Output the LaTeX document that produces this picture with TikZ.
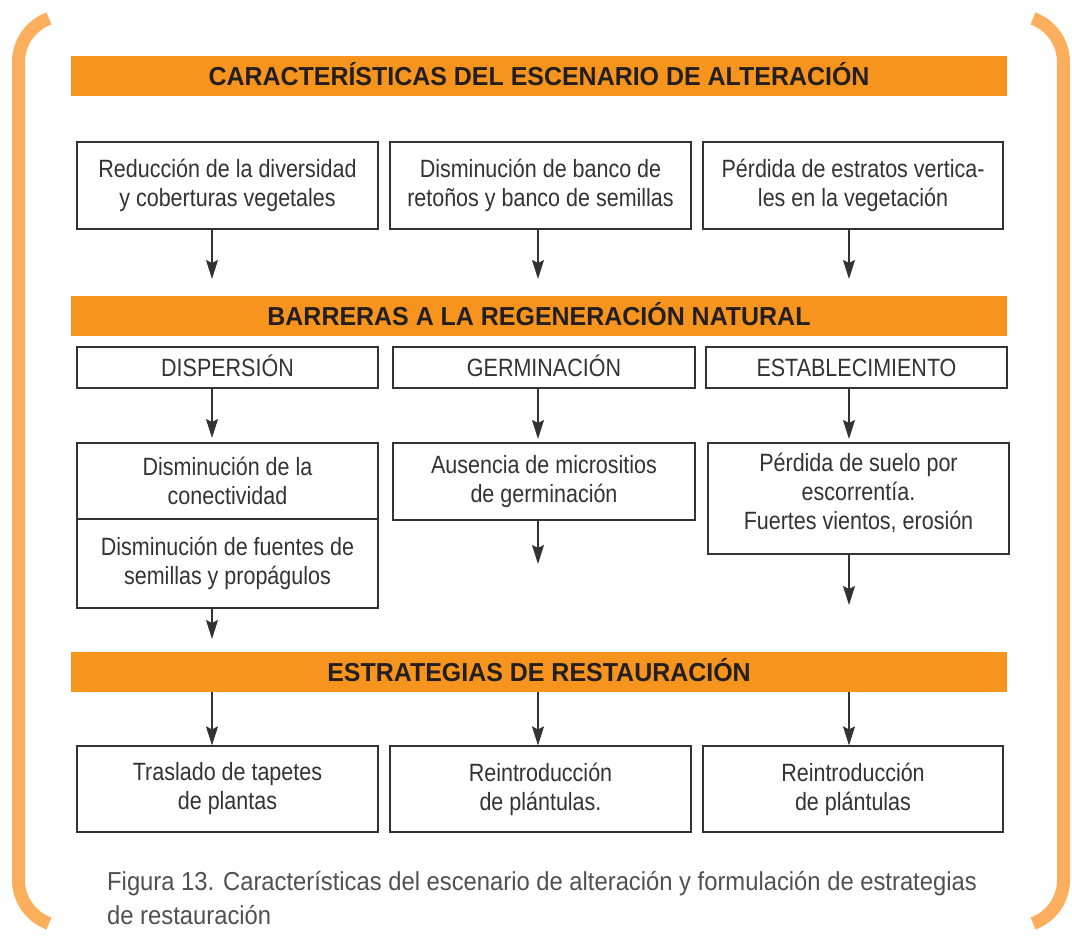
\documentclass[tikz,border=0pt]{standalone}
\usepackage{fontspec}
\setmainfont{Liberation Sans}[FakeStretch=0.86]
\newfontfamily\barfont{Liberation Sans}[FakeStretch=0.96]
\newfontfamily\capfont{Liberation Sans}[FakeStretch=0.915]
\usetikzlibrary{arrows.meta}
\definecolor{barorange}{HTML}{F7941D}
\definecolor{bracketorange}{HTML}{FBAE5C}
\definecolor{ink}{HTML}{333333}
\definecolor{titleink}{HTML}{231F20}
\definecolor{capink}{HTML}{505050}
\tikzset{
  box/.style={draw=ink, line width=1.2pt, text=ink, inner sep=0pt, align=center,
    font=\fontsize{25}{29}\selectfont},
  oneline/.style={text height=18pt, text depth=0pt},
  bar/.style={fill=barorange, draw=none, inner sep=0pt, minimum width=936pt,
    minimum height=40pt, text height=19pt, text depth=0pt, text=titleink,
    font=\barfont\bfseries\fontsize{26}{30}\selectfont},
  arr/.style={draw=ink, line width=1.2pt, -{Stealth[length=19pt,width=12pt,inset=3pt]}},
  bracket/.style={draw=bracketorange, line width=13pt}
}
\begin{document}
\begin{tikzpicture}[x=1pt,y=-1pt]
\useasboundingbox (0,0) rectangle (1072,936);
% orange brackets
\draw[bracket] (49,18.5) arc[start angle=-110, end angle=-180, radius=46.3] -- (18.5,880) arc[start angle=180, end angle=110, radius=46.3];
\draw[bracket] (1033,18.5) arc[start angle=-70, end angle=0, radius=46.3] -- (1063.5,880) arc[start angle=0, end angle=70, radius=46.3];

% bars
\node[bar] (bar1) at (539,76) {CARACTERÍSTICAS DEL ESCENARIO DE ALTERACIÓN};
\node[bar] (bar2) at (539,316) {BARRERAS A LA REGENERACIÓN NATURAL};
\node[bar] (bar3) at (539,672) {ESTRATEGIAS DE RESTAURACIÓN};

% row 1
\node[box, minimum width=301pt, minimum height=87pt] (b11) at (227.5,185.5) {Reducción de la diversidad\\y coberturas vegetales};
\node[box, minimum width=301pt, minimum height=87pt] (b12) at (540.5,185.5) {Disminución de banco de\\retoños y banco de semillas};
\node[box, minimum width=300pt, minimum height=87pt] (b13) at (853,185.5) {Pérdida de estratos vertica-\\les en la vegetación};

% row 2
\node[box, oneline, minimum width=301pt, minimum height=41pt] (d) at (227.5,367.5) {DISPERSIÓN};
\node[box, oneline, minimum width=302pt, minimum height=41pt] (g) at (544,367.5) {GERMINACIÓN};
\node[box, oneline, minimum width=301pt, minimum height=41pt] (e) at (856.5,367.5) {ESTABLECIMIENTO};

% row 3
\node[box, minimum width=301pt, minimum height=76pt] (r31a) at (227.5,481) {Disminución de la\\conectividad};
\node[box, minimum width=301pt, minimum height=89pt] (r31b) at (227.5,563.5) {Disminución de fuentes de\\semillas y propágulos};
\node[box, minimum width=302pt, minimum height=77pt] (r32) at (544,481.5) {Ausencia de micrositios\\de germinación};
\node[box, minimum width=301pt, minimum height=111pt, text depth=14pt] (r33) at (858.5,498.5) {Pérdida de suelo por\\escorrentía.\\Fuertes vientos, erosión};

% row 4
\node[box, minimum width=301pt, minimum height=86pt] (s1) at (227.5,789) {Traslado de tapetes\\de plantas};
\node[box, minimum width=301pt, minimum height=86pt] (s2) at (540.5,789) {Reintroducción\\de plántulas.};
\node[box, minimum width=300pt, minimum height=86pt] (s3) at (853,789) {Reintroducción\\de plántulas};

% arrow end points
\coordinate (t11) at (212,279);
\coordinate (t12) at (538,279);
\coordinate (t13) at (849,279);
\coordinate (t21) at (212,438);
\coordinate (t22) at (538,439);
\coordinate (t23) at (849,439);
\coordinate (t31) at (212,639);
\coordinate (t32) at (538,564);
\coordinate (t33) at (849,605);

\draw[arr] (b11.south -| t11) -- (t11);
\draw[arr] (b12.south -| t12) -- (t12);
\draw[arr] (b13.south -| t13) -- (t13);
\draw[arr] (d.south -| t21) -- (t21);
\draw[arr] (g.south -| t22) -- (t22);
\draw[arr] (e.south -| t23) -- (t23);
\draw[arr] (r31b.south -| t31) -- (t31);
\draw[arr] (r32.south -| t32) -- (t32);
\draw[arr] (r33.south -| t33) -- (t33);
\draw[arr] (bar3.south -| t31) -- (s1.north -| t31);
\draw[arr] (bar3.south -| t32) -- (s2.north -| t32);
\draw[arr] (bar3.south -| t33) -- (s3.north -| t33);

% caption
\node[anchor=base west, align=left, inner sep=0pt, text=capink,
  font=\capfont\fontsize{26}{34}\selectfont] (cap) at (107,924)
  {Figura 13. Características del escenario de alteración y formulación de estrategias\\de restauración};
\end{tikzpicture}
\end{document}
